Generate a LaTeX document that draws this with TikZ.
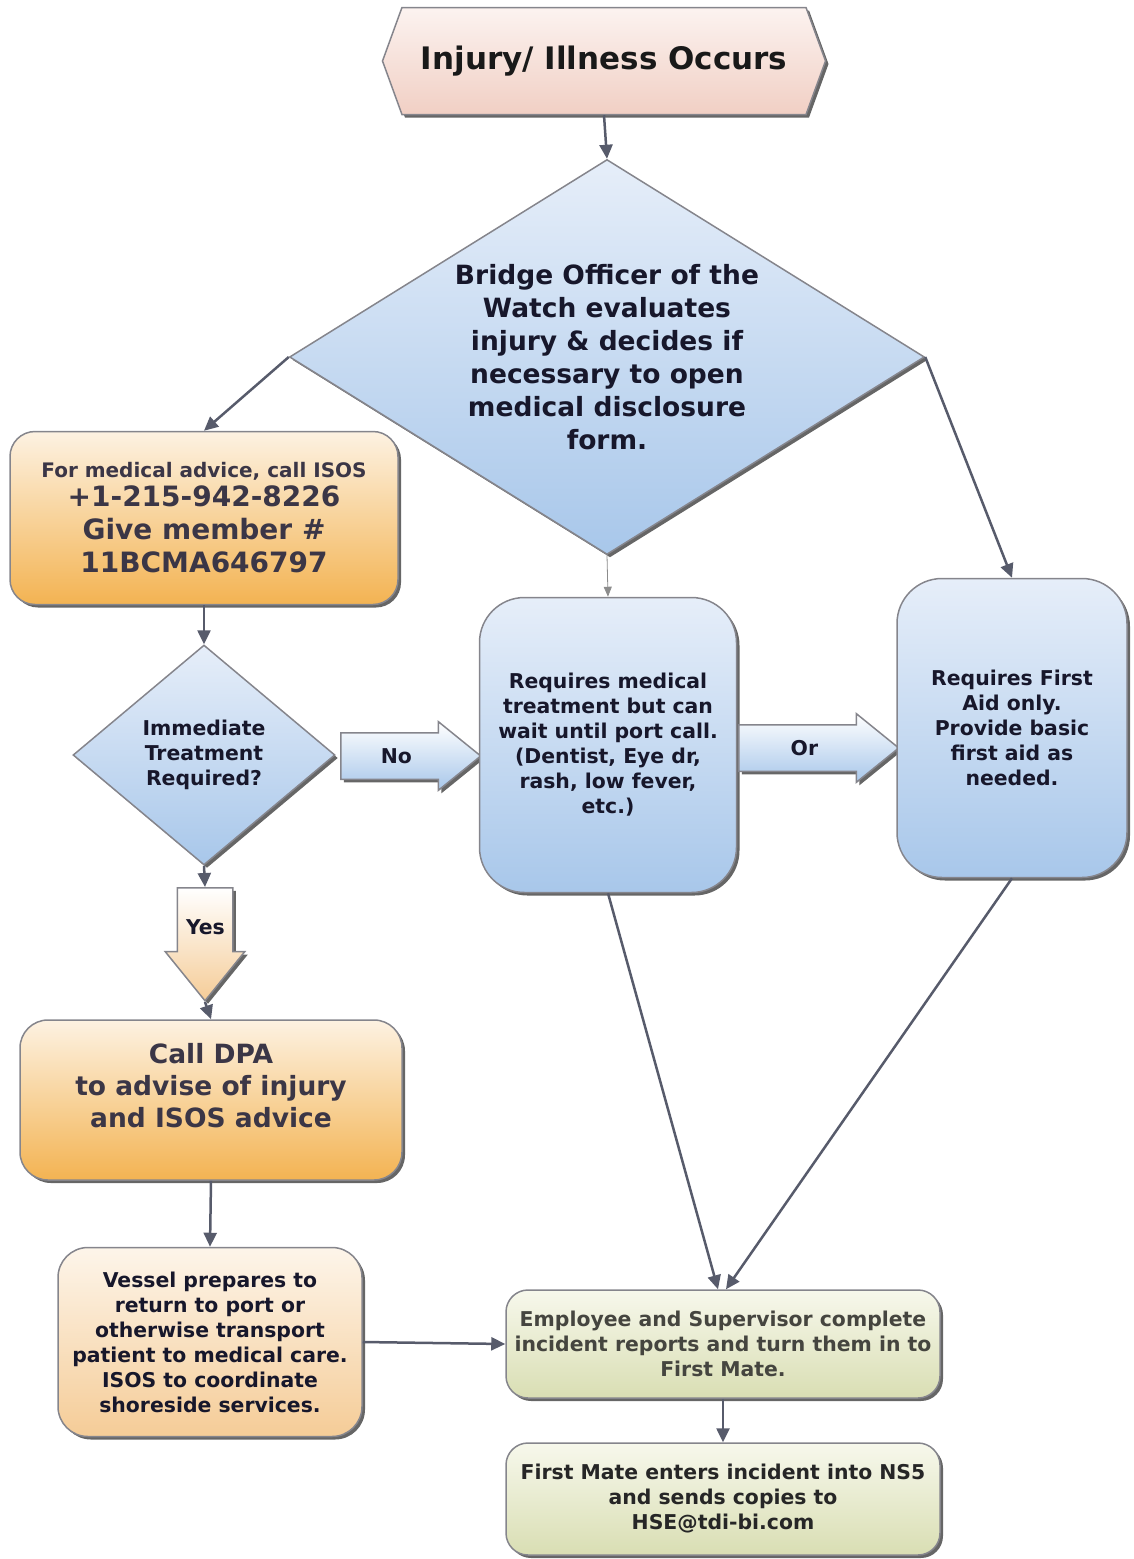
\documentclass[tikz,border=0pt]{standalone}
\usepackage{fontspec}
\setmainfont{DejaVu Sans}
\usepackage{xcolor}
\usepackage{tikz}
\usetikzlibrary{arrows.meta}
\usetikzlibrary{shapes.geometric,shapes.symbols,shapes.arrows}
\usetikzlibrary{shadows}

\definecolor{edgegray}{HTML}{85858C}
\definecolor{linegray}{HTML}{575B6B}
\definecolor{inkblue}{HTML}{17172B}
\definecolor{inkbrown}{HTML}{3B3646}
\definecolor{inkolive}{HTML}{45453F}
\definecolor{blueA}{HTML}{E6EEF9}
\definecolor{blueB}{HTML}{A8C7EA}
\definecolor{orangeA}{HTML}{FDF2E2}
\definecolor{orangeB}{HTML}{F3B352}
\definecolor{peachA}{HTML}{FDF5EA}
\definecolor{peachB}{HTML}{F5CC97}
\definecolor{pinkA}{HTML}{FCF3F0}
\definecolor{pinkB}{HTML}{F1CFC4}
\definecolor{oliveA}{HTML}{F7F8EC}
\definecolor{oliveB}{HTML}{D9DEB3}

\newcommand{\bodyfont}{\fontsize{20.4}{25}\selectfont\bfseries}

\begin{document}
\begin{tikzpicture}[x=1pt,y=-1pt,
    box/.style={draw=edgegray, line width=1.5pt, align=center, inner sep=0pt,
      drop shadow={shadow xshift=3pt, shadow yshift=-3pt, fill=black!60, opacity=1}},
    bluebox/.style={box, rounded corners=45pt, top color=blueA, bottom color=blueB,
      text=inkblue, font=\bodyfont},
    decide/.style={box, diamond, top color=blueA, bottom color=blueB, text=inkblue},
    blockarrow/.style={box, single arrow, single arrow tip angle=78,
      single arrow head extend=11pt, anchor=tail,
      top color=white, bottom color=blueB, text=inkblue, font=\bodyfont,
      text height=15pt, text depth=0pt, inner ysep=15pt, inner xsep=0pt},
    conn/.style={line width=2.5pt, draw=linegray, -{Triangle[length=14pt,width=13pt]}},
    thinconn/.style={line width=0.8pt, draw=black!45, -{Triangle[length=10pt,width=8pt]}}]
  \useasboundingbox (0,0) rectangle (1134,1559);

  \node (occurs) [box, signal, signal from=nowhere, signal to=west and east, signal pointer angle=140,
    minimum width=443pt, minimum height=107pt, top color=pinkA, bottom color=pinkB,
    font=\fontsize{31}{36}\selectfont\bfseries, text=black!90] at (604,61) {Injury/ Illness Occurs};

  \node (bridge) [decide, shape aspect=1.6, minimum width=635pt, minimum height=395pt,
    font=\fontsize{26.5}{33}\selectfont\bfseries] at (607,357)
    {Bridge Officer of the\\Watch evaluates\\injury \& decides if\\necessary to open\\medical disclosure\\form.};

  \node (isos) [box, rounded corners=25pt, minimum width=388pt, minimum height=173pt,
    top color=orangeA, bottom color=orangeB, text=inkbrown,
    font=\fontsize{28}{33}\selectfont\bfseries] at (204,518)
    {{\fontsize{20}{25}\selectfont For medical advice, call ISOS}\\[-4pt]
     +1-215-942-8226\\Give member \#\\11BCMA646797};

  \node (immed) [decide, shape aspect=1.19, minimum width=262pt, minimum height=220pt,
    font=\bodyfont] at (204,755) {Immediate\\Treatment\\Required?};

  \node (no) [blockarrow, minimum height=140pt] at (340,756) {No};

  \node (wait) [bluebox, minimum width=257pt, minimum height=295pt] at (608,745)
    {Requires medical\\treatment but can\\wait until port call.\\(Dentist, Eye dr,\\rash, low fever,\\etc.)};

  \node (or) [blockarrow, minimum height=160pt] at (738,748) {Or};

  \node (firstaid) [bluebox, minimum width=230pt, minimum height=299pt] at (1012,728)
    {Requires First\\Aid only.\\Provide basic\\first aid as\\needed.};

  \node (yes) [blockarrow, shape border rotate=270, minimum height=113pt,
    single arrow head extend=12pt, bottom color=peachB, text width=38pt,
    inner xsep=8pt] at (205,887) {Yes};

  \node (dpa) [box, rounded corners=28pt, minimum width=382pt, minimum height=160pt,
    top color=orangeA, bottom color=orangeB, text=inkbrown,
    font=\fontsize{26.5}{32}\selectfont\bfseries] at (211,1100)
    {Call DPA\\to advise of injury\\and ISOS advice\rule[-30pt]{0pt}{0pt}};

  \node (vessel) [box, rounded corners=30pt, minimum width=304pt, minimum height=189pt,
    top color=peachA, bottom color=peachB, text=inkblue, font=\bodyfont] at (210,1342)
    {Vessel prepares to\\return to port or\\otherwise transport\\patient to medical care.\\ISOS to coordinate\\shoreside services.};

  \node (report) [box, rounded corners=22pt, minimum width=434pt, minimum height=108pt,
    top color=oliveA, bottom color=oliveB, text=inkolive, font=\bodyfont] at (723,1344)
    {Employee and Supervisor complete\\incident reports and turn them in to\\First Mate.};

  \node (nsfive) [box, rounded corners=22pt, minimum width=434pt, minimum height=112pt,
    top color=oliveA, bottom color=oliveB, text=black!85, font=\bodyfont] at (723,1499)
    {First Mate enters incident into NS5\\and sends copies to\\HSE@tdi-bi.com};

  \draw [conn] (occurs.south) -- (bridge.north);
  \draw [conn] (bridge.west) -- (isos.north);
  \draw [conn] (bridge.east) -- (firstaid.north);
  \draw [thinconn] (bridge.south) -- (wait.north);
  \draw [conn] (isos.south) -- (immed.north);
  \draw [conn] (immed.south) -- (yes.tail);
  \draw [conn] (yes.tip) -- (dpa.north);
  \draw [conn] (dpa.south) -- (vessel.north);
  \draw [conn] (vessel.east) -- (report.west);
  \draw [conn] (wait.south) -- ([xshift=-5pt]report.north);
  \draw [conn] (firstaid.south) -- ([xshift=3pt]report.north);
  \draw [conn] (report.south) -- (nsfive.north);
\end{tikzpicture}
\end{document}
